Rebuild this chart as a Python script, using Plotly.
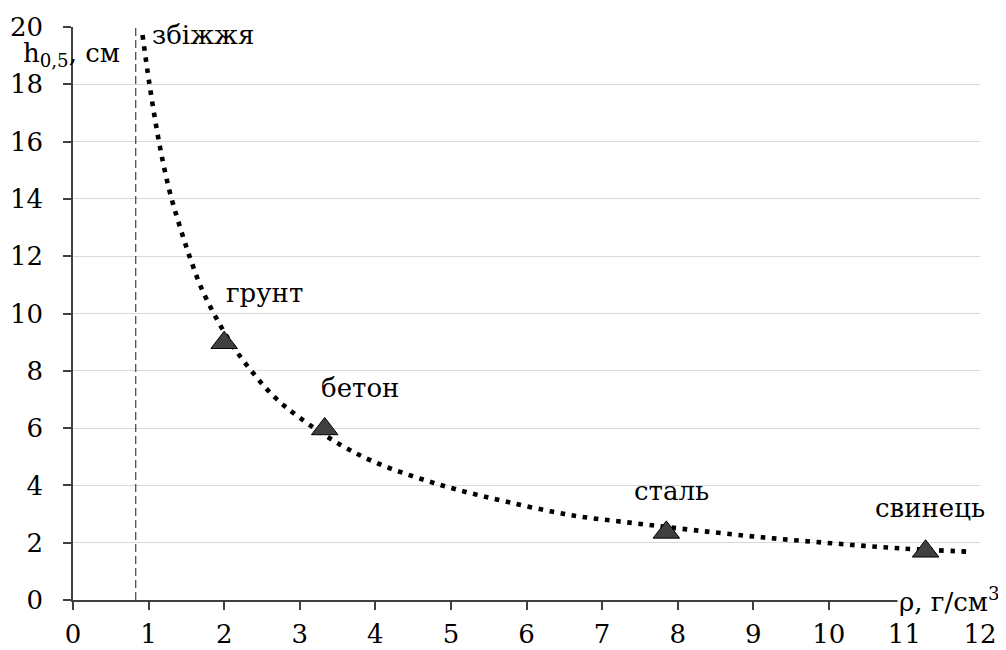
import plotly.graph_objects as go

# ---- data ----
# dotted trend curve: half-value layer h0,5 (cm) vs density rho (g/cm3)
curve_rho = [0.92, 1.01, 1.14, 1.27, 1.40, 1.54, 1.70, 1.90, 2.12, 2.38, 2.66, 2.99,
             3.53, 4.01, 4.52, 5.07, 5.74, 6.57, 7.43, 8.21, 9.11, 10.04, 10.96, 11.9]
curve_h = [19.72, 18.03, 15.96, 14.35, 13.15, 12.01, 10.88, 9.82, 8.84, 7.93, 7.10, 6.38,
           5.43, 4.79, 4.30, 3.86, 3.43, 2.97, 2.68, 2.44, 2.19, 1.98, 1.80, 1.68]

# materials marked with triangles
material_names = ["грунт", "бетон", "сталь", "свинець"]
material_rho = [2.0, 3.33, 7.85, 11.28]
material_h = [8.98, 5.97, 2.36, 1.70]

# grain label at the top of the curve
grain_name = "збіжжя"
grain_rho = [0.92]
grain_h = [19.72]

# dashed vertical limit line
limit_rho = [0.83, 0.83]
limit_h = [0, 20]

x_ticks = list(range(0, 13))
y_ticks = list(range(0, 21, 2))

FONT = "DejaVu Serif"
FS = 26
AXIS_COLOR = "#404040"


def tfont():
    return dict(family=FONT, size=FS, color="black")


fig = go.Figure()

fig.add_trace(go.Scatter(
    x=limit_rho, y=limit_h, mode="lines",
    line=dict(color="#404040", width=1.2, dash="8px,4px"),
    showlegend=False, hoverinfo="skip"))

fig.add_trace(go.Scatter(
    x=curve_rho, y=curve_h, mode="lines",
    line=dict(color="black", width=4.6, dash="4.6px,6.6px", shape="spline", smoothing=1.0),
    showlegend=False))

fig.add_trace(go.Scatter(
    x=material_rho, y=material_h, mode="markers",
    marker=dict(symbol="triangle-up", size=23, color="#404040",
                line=dict(color="black", width=1)),
    showlegend=False))

annotations = []
shifts = [(40, 50), (35, 41), (5, 41), (4, 43)]
for name, xr, yh, (dx, dy) in zip(material_names, material_rho, material_h, shifts):
    annotations.append(dict(x=xr, y=yh, xref="x", yref="y", text=name, showarrow=False,
                            xshift=dx, yshift=dy, font=tfont()))

annotations.append(dict(x=grain_rho[0], y=grain_h[0], xref="x", yref="y", text=grain_name,
                        showarrow=False, xanchor="left", xshift=7, yshift=0, font=tfont()))

# axis titles
annotations.append(dict(x=12, y=0, xref="x", yref="y", text="ρ, г/см<sup>3</sup>",
                        showarrow=False, xanchor="left", yanchor="middle", xshift=-83,
                        bgcolor="white", font=tfont()))
annotations.append(dict(x=0, y=20, xref="x", yref="y", text="h<sub>0,5</sub>, см",
                        showarrow=False, xanchor="center", yanchor="middle", xshift=-2, yshift=-27,
                        font=tfont()))

fig.update_layout(
    width=1006, height=650,
    margin=dict(l=65, r=34, t=19, b=58),
    plot_bgcolor="white", paper_bgcolor="white",
    annotations=annotations,
    xaxis=dict(range=[0, 12], tickvals=x_ticks, showgrid=False, zeroline=False, automargin=False,
               showline=True, linecolor=AXIS_COLOR, linewidth=1.6,
               ticks="outside", ticklen=8, tickcolor=AXIS_COLOR, tickwidth=1.6,
               ticklabelstandoff=2, tickfont=tfont()),
    yaxis=dict(range=[0, 20], tickvals=y_ticks, showgrid=True, gridcolor="#d9d9d9", gridwidth=1.3,
               zeroline=False, automargin=False, showline=True, linecolor=AXIS_COLOR, linewidth=1.6,
               ticks="outside", ticklen=8, tickcolor=AXIS_COLOR, tickwidth=1.6,
               ticklabelstandoff=15, tickfont=tfont()),
)

fig.write_html("out.html")
